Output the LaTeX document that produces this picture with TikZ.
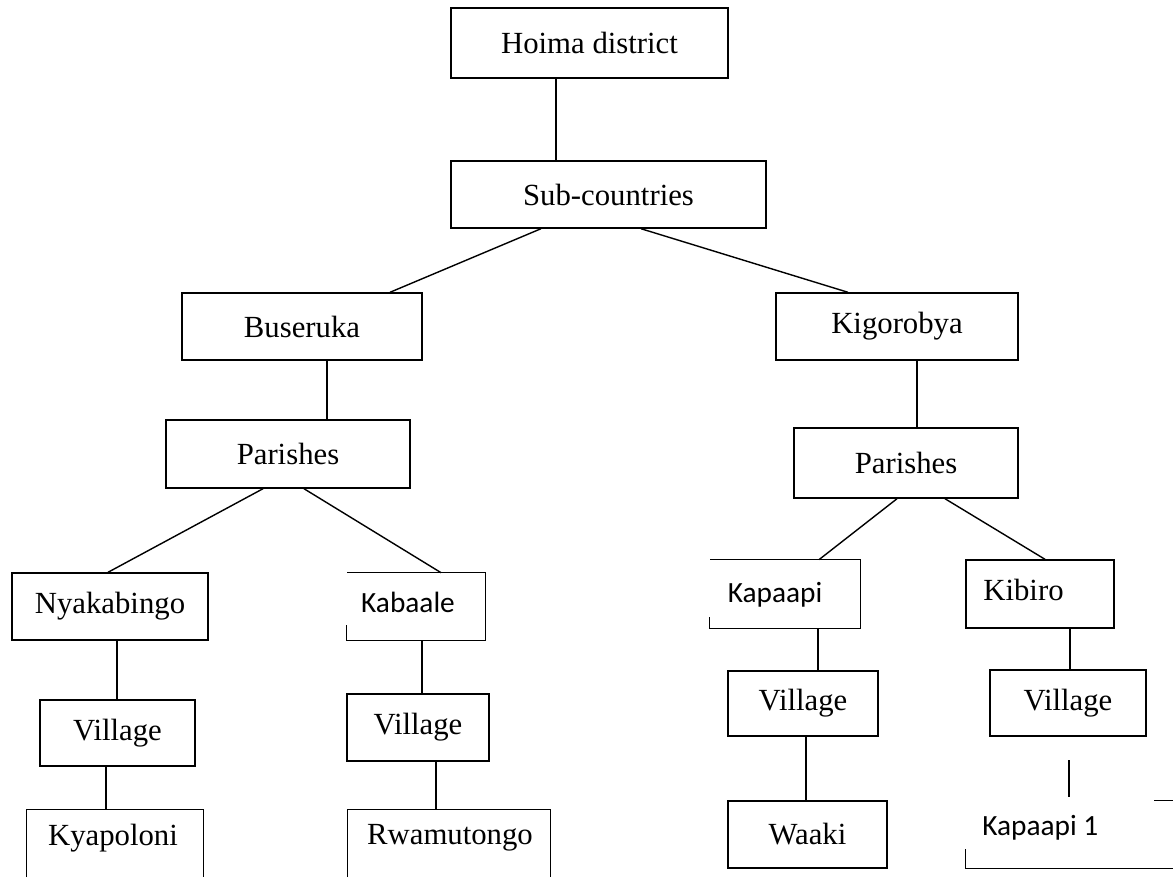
\documentclass[tikz,border=0pt]{standalone}
\usepackage{fontspec}
\setmainfont{Liberation Serif}
\newfontfamily\calibri{Carlito}
\tikzset{
  box/.style={draw, line width=0.8pt, inner sep=0pt, font=\fontsize{17.5}{21}\selectfont},
  frame/.style={inner sep=0pt},
  link/.style={line width=0.8pt},
  lbl/.style={inner sep=0pt, font=\fontsize{17.5}{21}\selectfont},
  slbl/.style={inner sep=0pt, font=\calibri\fontsize{16.7}{20}\selectfont}}
% \bx{name}{style}{x1}{y1}{x2}{y2}{text}
\newcommand\bx[7]{\node[#2, minimum width={(#5-#3)*0.02cm}, minimum height={(#6-#4)*0.02cm}] (#1) at ({(#3+#5)/2},{(#4+#6)/2}) {#7};}
\begin{document}
\begin{tikzpicture}[x=0.02cm,y=-0.02cm]
\useasboundingbox[fill=white] (0,0) rectangle (1173,877);

% top levels
\bx{hoima}{box}{451}{8}{728}{78}{Hoima district}
\bx{sub}{box}{451}{161}{766}{228}{Sub-countries}
\bx{bus}{box}{182}{293}{422}{360}{Buseruka}
\bx{kig}{box}{776}{293}{1018}{360}{Kigorobya}
\bx{parl}{box}{166}{420}{410}{488}{Parishes}
\bx{parr}{box}{794}{428}{1018}{498}{Parishes}

% left branch
\bx{nyak}{box}{12}{573}{208}{640}{Nyakabingo}
\bx{kab}{frame}{347}{573}{485}{640}{}
\node[slbl] (kabt) at (408,602) {Kabaale};
\bx{vill}{box}{40}{700}{195}{766}{Village}
\bx{vilm}{box}{347}{694}{489}{761}{Village}
\bx{kyap}{frame}{27}{810}{203}{866}{}
\node[lbl] (kyapt) at (113,838) {Kyapoloni};
\bx{rwam}{frame}{348}{810}{550}{866}{}
\node[lbl] (rwamt) at (450,838) {Rwamutongo};

% right branch
\bx{kap}{frame}{710}{560}{860}{628}{}
\node[slbl] (kapt) at (775,595) {Kapaapi};
\bx{kib}{box}{966}{560}{1114}{628}{}
\node[lbl, anchor=west] (kibt) at (983,590) {Kibiro};
\bx{vir1}{box}{728}{671}{878}{736}{Village}
\bx{vir2}{box}{990}{670}{1146}{736}{Village}
\bx{waaki}{box}{728}{801}{887}{868}{Waaki}
\bx{kap1}{frame}{966}{801}{1173}{868}{}
\node[slbl, anchor=west] (kap1t) at (982,828) {Kapaapi 1};
\coordinate (free1) at (1069,760);
\coordinate (free2) at (1069,797);

% partial frames
\draw[link] (kab.south west |- 0,625) -- (kab.south west) -- (kab.south east) -- (kab.north east) -- (kab.north west);
\draw[link] (kap.south west |- 0,617) -- (kap.south west) -- (kap.south east) -- (kap.north east) -- (kap.north west);
\draw[link] (kyap.north west |- 0,877) -- (kyap.north west) -- (kyap.north east) -- (kyap.north east |- 0,877);
\draw[link] (rwam.north west |- 0,877) -- (rwam.north west) -- (rwam.north east) -- (rwam.north east |- 0,877);
\draw[link] (kap1.north west |- 0,849) -- (kap1.south west) -- (kap1.south east);
\draw[link] (1154,0 |- kap1.north) -- (kap1.north east);

% connectors
\draw[link] (556,0 |- hoima.south) -- (556,0 |- sub.north);
\draw[link] (541,0 |- sub.south) -- (390,0 |- bus.north);
\draw[link] (641,0 |- sub.south) -- (848,0 |- kig.north);
\draw[link] (327,0 |- bus.south) -- (327,0 |- parl.north);
\draw[link] (917,0 |- kig.south) -- (917,0 |- parr.north);
\draw[link] (263,0 |- parl.south) -- (108,0 |- nyak.north);
\draw[link] (304,0 |- parl.south) -- (441,0 |- kab.north);
\draw[link] (117,0 |- nyak.south) -- (117,0 |- vill.north);
\draw[link] (422,0 |- kab.south) -- (422,0 |- vilm.north);
\draw[link] (106,0 |- vill.south) -- (106,0 |- kyap.north);
\draw[link] (436,0 |- vilm.south) -- (436,0 |- rwam.north);
\draw[link] (897,0 |- parr.south) -- (819,0 |- kap.north);
\draw[link] (945,0 |- parr.south) -- (1045,0 |- kib.north);
\draw[link] (818,0 |- kap.south) -- (818,0 |- vir1.north);
\draw[link] (806,0 |- vir1.south) -- (806,0 |- waaki.north);
\draw[link] (1070,0 |- kib.south) -- (1070,0 |- vir2.north);
\draw[link] (free1) -- (free2);
\end{tikzpicture}
\end{document}
